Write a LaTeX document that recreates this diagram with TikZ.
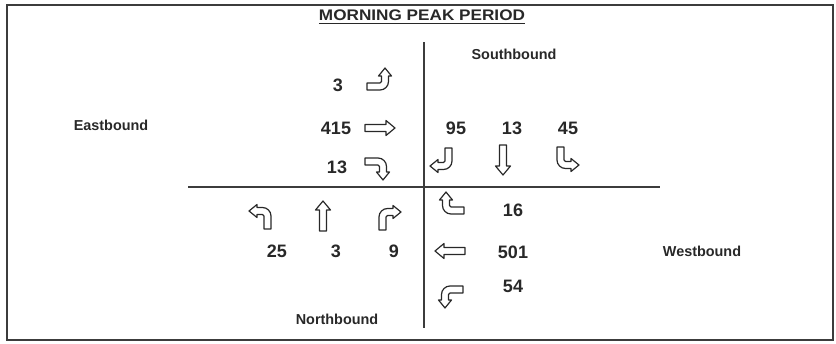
\documentclass[tikz,border=0pt]{standalone}
\usepackage{fontspec}
\setmainfont{Liberation Sans}
\usepackage{graphicx}
\usetikzlibrary{positioning}
\definecolor{ink}{RGB}{40,40,40}
\definecolor{rule}{RGB}{60,60,60}

\begin{document}
\begin{tikzpicture}[x=0.75pt, y=0.75pt,
  vol/.style={font=\fontsize{13.5}{16}\selectfont\bfseries, text=ink, inner sep=0pt},
  dirlbl/.style={font=\fontsize{10.8}{13}\selectfont\bfseries, text=ink, inner sep=0pt},
  ttl/.style={font=\fontsize{11.5}{14}\selectfont\bfseries, text=ink, inner sep=0pt},
  axis/.style={draw=rule, line width=1.5pt},
  frame/.style={draw=rule, line width=1.1pt},
  blockarr/.style={draw=ink, line width=0.9pt, line join=round},
  turnarr/.pic={
    \draw[blockarr] (-13,-11) -- (0,-11) arc[start angle=-90, end angle=0, radius=8.5]
      -- (8.5,3) -- (11.5,3) -- (5,11) -- (-1.5,3) -- (1.5,3)
      -- (1.5,-2.5) arc[start angle=0, end angle=-90, radius=1.5] -- (-13,-4) -- cycle;
  },
  thruarr/.pic={
    \draw[blockarr] (-15,-3.5) -- (6,-3.5) -- (6,-7.5) -- (15,0) -- (6,7.5) -- (6,3.5) -- (-15,3.5) -- cycle;
  },
]
  \useasboundingbox (0,0) rectangle (836,-343);
  \draw[frame] (7,-5) rectangle (833,-340);

  \node[ttl] (title) at (422,-17) {\underline{\scalebox{1.12}[1]{MORNING PEAK PERIOD}}};

  % cross lines
  \coordinate (ntop) at (424,-42);
  \coordinate (nbot) at (424,-328);
  \coordinate (wend) at (188,-187);
  \coordinate (eend) at (660,-187);
  \draw[axis] (ntop) -- (nbot);
  \draw[axis] (wend) -- (eend);

  \node[dirlbl] (sb) at (514,-54) {Southbound};
  \node[dirlbl] (eb) at (111,-125) {Eastbound};
  \node[dirlbl] (wb) at (702,-251) {Westbound};
  \node[dirlbl] (nb) at (337,-319) {Northbound};

  % eastbound
  \node[vol] (ebleft) at (338,-85) {3};
  \node[vol] (ebthru) at (336,-128) {415};
  \node[vol] (ebright) at (337,-167) {13};
  \pic at (380,-79) {turnarr};
  \pic at (380,-128) {thruarr};
  \pic[yscale=-1] at (378,-169) {turnarr};

  % southbound
  \node[vol] (sbright) at (456,-128) {95};
  \node[vol] (sbthru) at (512,-128) {13};
  \node[vol] (sbleft) at (568,-128) {45};
  \pic[cm={0,-1,-1,0,(0,0)}] at (441,-161) {turnarr};
  \pic[rotate=-90] at (503,-160) {thruarr};
  \pic[rotate=-90] at (568,-160) {turnarr};

  % northbound
  \node[vol] (nbleft) at (277,-251) {25};
  \node[vol] (nbthru) at (336,-251) {3};
  \node[vol] (nbright) at (394,-251) {9};
  \pic[rotate=90] at (260,-216) {turnarr};
  \pic[rotate=90] at (323,-216) {thruarr};
  \pic[cm={0,1,1,0,(0,0)}] at (390,-217) {turnarr};

  % westbound
  \node[vol] (wbright) at (513,-210) {16};
  \node[vol] (wbthru) at (513,-252) {501};
  \node[vol] (wbleft) at (513,-286) {54};
  \pic[xscale=-1] at (451,-203) {turnarr};
  \pic[rotate=180] at (450,-251) {thruarr};
  \pic[rotate=180] at (450,-297) {turnarr};
\end{tikzpicture}
\end{document}
